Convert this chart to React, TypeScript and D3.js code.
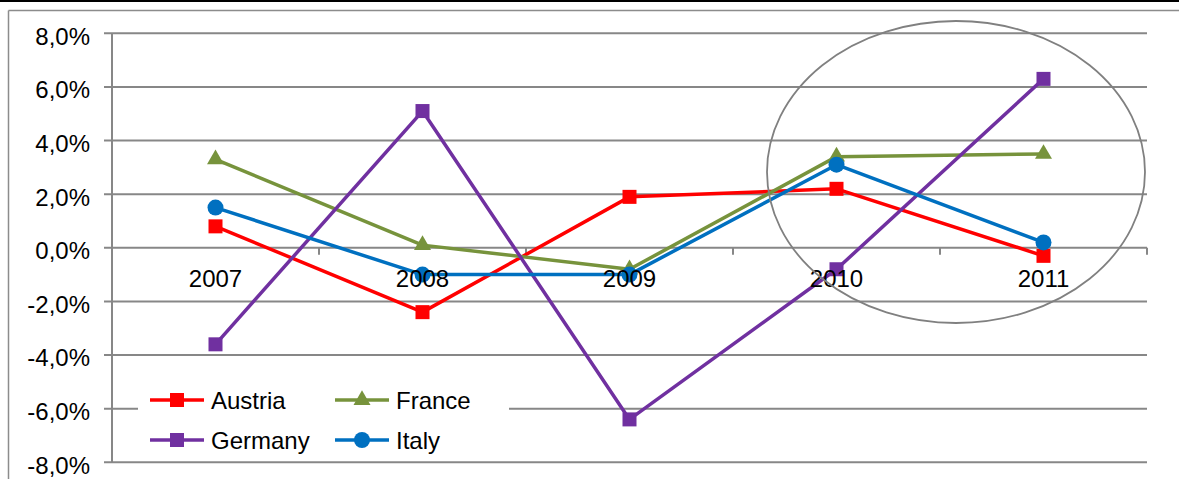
import React from "react";
import * as d3 from "d3";

const years = ["2007", "2008", "2009", "2010", "2011"];
const austria = [0.8, -2.4, 1.9, 2.2, -0.3];
const france = [3.3, 0.1, -0.8, 3.4, 3.5];
const germany = [-3.6, 5.1, -6.4, -0.8, 6.3];
const italy = [1.5, -1.0, -1.0, 3.1, 0.2];
const yTicks = [8, 6, 4, 2, 0, -2, -4, -6, -8];

const seriesList = [
  { name: "Austria", values: austria, color: "#FF0000", marker: "square" },
  { name: "France", values: france, color: "#77933C", marker: "triangle" },
  { name: "Germany", values: germany, color: "#7030A0", marker: "square" },
  { name: "Italy", values: italy, color: "#0070C0", marker: "circle" },
];

const W = 1179;
const H = 479;
const left = 112;
const right = 1147;
const top = 33.3;
const bottom = 462.3;
const FONT = "'Liberation Sans', Arial, sans-serif";
const GRID = "#878787";

function Marker({ type, x, y, color }: { type: string; x: number; y: number; color: string }) {
  if (type === "square") {
    return <rect x={x - 7} y={y - 7} width={14} height={14} fill={color} />;
  }
  if (type === "circle") {
    return <circle cx={x} cy={y} r={8} fill={color} />;
  }
  const sym = d3.symbol().type(d3.symbolTriangle).size(125)();
  return <path d={sym || ""} transform={`translate(${x},${y})`} fill={color} />;
}

export default function App() {
  const x = d3.scaleBand<string>().domain(years).range([left, right]);
  const y = d3.scaleLinear().domain([-8, 8]).range([bottom, top]);
  const cx = (c: string) => (x(c) as number) + x.bandwidth() / 2;
  const line = d3
    .line<number>()
    .x((_, i) => cx(years[i]))
    .y((d) => y(d));
  const boundaries = years.map((c) => x(c) as number).concat([right]);

  const legendRows = [
    [seriesList[0], seriesList[1]],
    [seriesList[2], seriesList[3]],
  ];
  const legendColX = [150, 335];
  const legendRowY = [400, 440];

  return (
    <svg
      width={W}
      height={H}
      style={{ position: "absolute", left: 0, top: 0, background: "#fff" }}
      fontFamily={FONT}
    >
      <rect x={0} y={0} width={W} height={H} fill="#fff" />
      {/* frame */}
      <line x1={0} x2={W} y1={1} y2={1} stroke="#000" strokeWidth={2} />
      <line x1={8.5} x2={W} y1={10.5} y2={10.5} stroke="#8c8c8c" strokeWidth={1.5} />
      <line x1={8.5} x2={8.5} y1={10.5} y2={H} stroke="#8c8c8c" strokeWidth={1.5} />

      {/* gridlines */}
      {yTicks.map((t) => (
        <line key={"g" + t} x1={left - 8} x2={right} y1={y(t)} y2={y(t)} stroke={GRID} strokeWidth={2} />
      ))}
      {/* y axis */}
      <line x1={left} x2={left} y1={top} y2={bottom} stroke={GRID} strokeWidth={2} />
      {/* x axis ticks */}
      {boundaries.map((b, i) => (
        <line key={"xt" + i} x1={b} x2={b} y1={y(0)} y2={y(0) + 7} stroke={GRID} strokeWidth={2} />
      ))}
      {/* y labels */}
      {yTicks.map((t) => (
        <text key={"yl" + t} x={90} y={y(t) + 11.4} textAnchor="end" fontSize={24} fill="#000">
          {t.toFixed(1).replace(".", ",") + "%"}
        </text>
      ))}

      {/* series */}
      {seriesList.map((s) => (
        <path key={s.name} d={line(s.values) || ""} fill="none" stroke={s.color} strokeWidth={3.5} strokeLinejoin="round" />
      ))}
      {seriesList.map((s) =>
        s.values.map((v, i) => (
          <Marker key={s.name + i} type={s.marker} x={cx(years[i])} y={y(v)} color={s.color} />
        ))
      )}

      {/* category labels */}
      {years.map((c) => (
        <text key={"xl" + c} x={cx(c)} y={y(0) + 39} textAnchor="middle" fontSize={24} fill="#000">
          {c}
        </text>
      ))}

      {/* ellipse highlight */}
      <ellipse cx={956} cy={172} rx={189} ry={151} fill="none" stroke="#808080" strokeWidth={1.8} />

      {/* legend */}
      <rect x={138} y={376} width={371} height={82} fill="#fff" />
      {legendRows.map((row, ri) =>
        row.map((s, ci) => (
          <g key={s.name}>
            <line
              x1={legendColX[ci]}
              x2={legendColX[ci] + 54}
              y1={legendRowY[ri]}
              y2={legendRowY[ri]}
              stroke={s.color}
              strokeWidth={3.5}
            />
            <Marker type={s.marker} x={legendColX[ci] + 27} y={legendRowY[ri]} color={s.color} />
            <text x={legendColX[ci] + 61} y={legendRowY[ri] + 8.5} fontSize={24} fill="#000">
              {s.name}
            </text>
          </g>
        ))
      )}
    </svg>
  );
}
